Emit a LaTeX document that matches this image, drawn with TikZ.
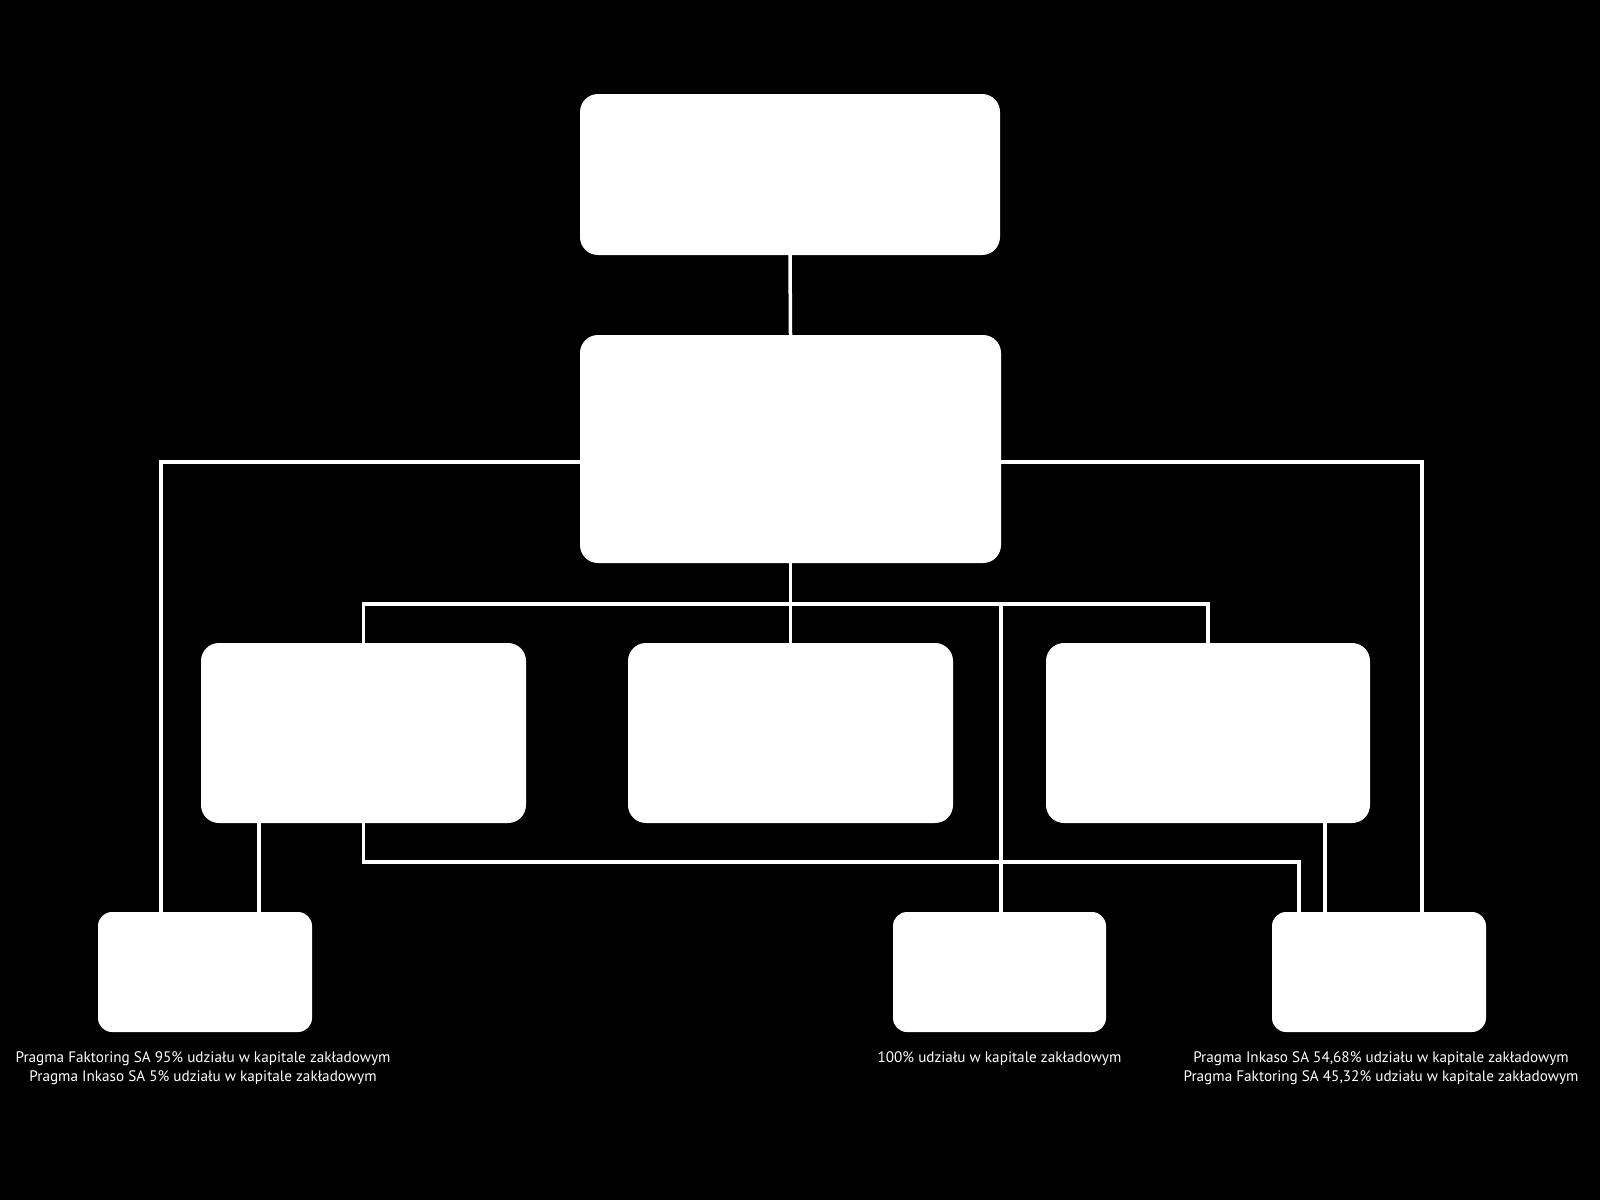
\documentclass[tikz,border=0pt]{standalone}
\usepackage{fontspec}
\setmainfont{PT Sans}
\begin{document}
\begin{tikzpicture}[x=1pt,y=-1pt,
  box/.style={draw=none,fill=white,rounded corners=#1,inner sep=0pt,minimum width=0pt},
  box/.default=18pt,
  conn/.style={draw=white,line width=3.5pt,line join=miter},
  lbl/.style={text=white,align=center,font=\fontsize{15.2}{19.5}\selectfont,inner sep=0pt}]
\fill[black] (0,0) rectangle (1600,1200);
\useasboundingbox (0,0) rectangle (1600,1200);
% boxes
\node[box, minimum width=420pt, minimum height=161pt] (top) at (790,174.5) {};
\node[box, minimum width=421pt, minimum height=228pt] (b2) at (790.5,449) {};
\node[box, minimum width=325pt, minimum height=180pt] (ml) at (363.5,733) {};
\node[box, minimum width=325pt, minimum height=180pt] (mm) at (790.5,733) {};
\node[box, minimum width=324pt, minimum height=180pt] (mr) at (1208,733) {};
\node[box=14pt, minimum width=214pt, minimum height=120pt] (bl) at (205,972) {};
\node[box=14pt, minimum width=213pt, minimum height=120pt] (bm) at (999.5,972) {};
\node[box=14pt, minimum width=214pt, minimum height=120pt] (br) at (1379,972) {};
% helper coordinates
\coordinate (hb) at (0,604);
\coordinate (side) at (0,462);
\coordinate (low) at (0,862);
\coordinate (blA) at ([xshift=-44pt]bl.north);
\coordinate (blB) at ([xshift=54pt]bl.north);
\coordinate (bmA) at ([xshift=1.5pt]bm.north);
\coordinate (brA) at ([xshift=-80pt]br.north);
\coordinate (brB) at ([xshift=-54pt]br.north);
\coordinate (brC) at ([xshift=43pt]br.north);
% connectors
\draw[conn] (top.south) -- (b2.north);
\draw[conn] (b2.west |- side) -| (blA);
\draw[conn] (b2.east |- side) -| (brC);
\draw[conn] (b2.south) -- (mm.north);
\draw[conn] (ml.north) |- (hb -| mr.north) -- (mr.north);
\draw[conn] (bmA |- hb) -- (bmA);
\draw[conn] (blB |- ml.south) -- (blB);
\draw[conn] (ml.south) |- (low -| brA) -- (brA);
\draw[conn] (brB |- mr.south) -- (brB);
% labels
\node[lbl, anchor=north] (lblL) at ([xshift=-2pt,yshift=-19pt]bl.south) {Pragma Faktoring SA 95\% udziału w kapitale zakładowym\\Pragma Inkaso SA 5\% udziału w kapitale zakładowym};
\node[lbl, anchor=north] (lblM) at ([yshift=-19pt]bm.south) {100\% udziału w kapitale zakładowym};
\node[lbl, anchor=north] (lblR) at ([xshift=2pt,yshift=-19pt]br.south) {Pragma Inkaso SA 54,68\% udziału w kapitale zakładowym\\Pragma Faktoring SA 45,32\% udziału w kapitale zakładowym};
\end{tikzpicture}
\end{document}
